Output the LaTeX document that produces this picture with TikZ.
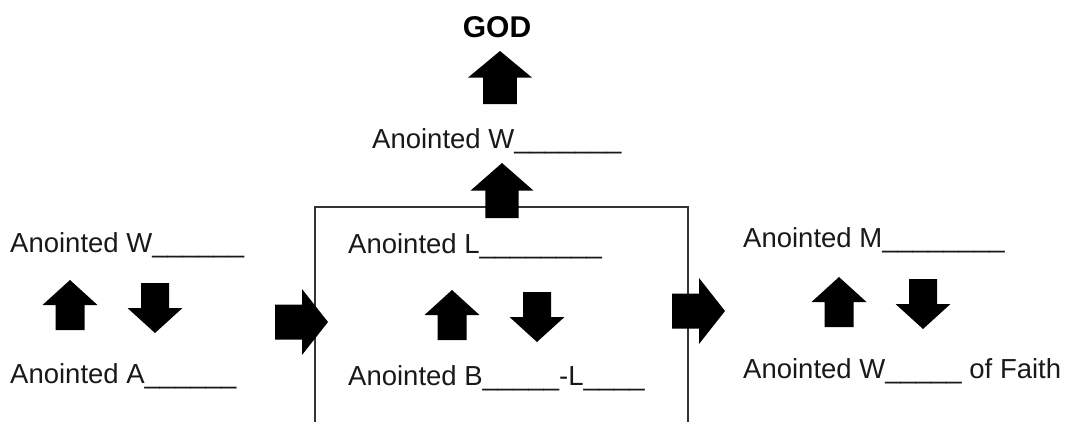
\documentclass[tikz,border=0pt]{standalone}
\usepackage{fontspec}
\setmainfont{Liberation Sans}
\begin{document}
\begin{tikzpicture}[x=1pt,y=-1pt,
  lbl/.style={anchor=base west,inner sep=0pt,font=\fontsize{27.5}{30}\selectfont,text=black!90},
  frameline/.style={line width=2pt,draw=black!80},
  uparr/.pic={\fill[black] (0,0) -- (27.5,25) -- (14.5,25) -- (14.5,50) -- (-14.5,50) -- (-14.5,25) -- (-27.5,25) -- cycle;},
  downarr/.pic={\fill[black] (0,0) -- (27.5,-25) -- (14,-25) -- (14,-50) -- (-14,-50) -- (-14,-25) -- (-27.5,-25) -- cycle;},
  rightarr/.pic={\fill[black] (0,0) -- (-26,-33) -- (-26,-17.5) -- (-53,-17.5) -- (-53,17.5) -- (-26,17.5) -- (-26,33) -- cycle;}
]
\useasboundingbox (0,0) rectangle (1067,421);
% frame
\coordinate (fbl) at (315,425);
\coordinate (ftl) at (315,207);
\coordinate (ftr) at (688,207);
\coordinate (fbr) at (688,425);
\draw[frameline] (fbl) -- (ftl) -- (ftr) -- (fbr);
% texts
\node[anchor=base,inner sep=0pt,font=\fontsize{30}{32}\selectfont\bfseries] (god) at (497,37) {GOD};
\node[lbl] (topw) at (372,148) {Anointed W\_\_\_\_\_\_\_};
\node[lbl] (leftw) at (10,252) {Anointed W\_\_\_\_\_\_};
\node[lbl] (lefta) at (10,383) {Anointed A\_\_\_\_\_\_};
\node[lbl] (midl) at (348,253) {Anointed L\_\_\_\_\_\_\_\_};
\node[lbl] (midb) at (348,385) {Anointed B\_\_\_\_\_-L\_\_\_\_};
\node[lbl] (rightm) at (743,247) {Anointed M\_\_\_\_\_\_\_\_};
\node[lbl] (rightw) at (743,378) {Anointed W\_\_\_\_\_ of Faith};
% arrows
\pic[xscale=1.16,yscale=1.06] at (500,51) {uparr};
\pic[xscale=1.14,yscale=1.1] at (502,163) {uparr};
\pic at (70,280) {uparr};
\pic at (155,333) {downarr};
\pic at (328,322) {rightarr};
\pic at (452,290) {uparr};
\pic at (537,342) {downarr};
\pic at (725,311) {rightarr};
\pic at (839,277) {uparr};
\pic at (923,329) {downarr};
\end{tikzpicture}
\end{document}
